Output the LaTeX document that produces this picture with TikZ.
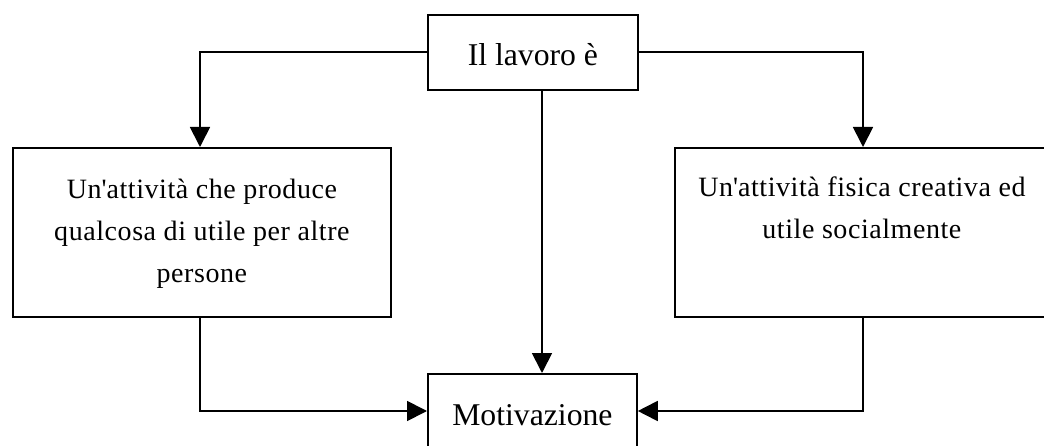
\documentclass[tikz,border=0pt]{standalone}
\usepackage{fontspec}
\setmainfont{Liberation Serif}
% lightly tracked face for the text inside the two side boxes
\newfontfamily\boxfont[LetterSpace=2,Ligatures=NoCommon]{Liberation Serif}
\usetikzlibrary{arrows.meta}
\begin{document}
\begin{tikzpicture}[x=1pt,y=-1pt,
  box/.style={draw, line width=1.8pt, inner sep=0pt, anchor=north west},
  bigtext/.style={font=\fontsize{31.7}{38}\selectfont},
  boxtext/.style={font=\boxfont\fontsize{28}{42}\selectfont},
  link/.style={line width=1.8pt},
  arr/.style={link, -{Triangle[length=20pt,width=20pt]}}]
\useasboundingbox (0,0) rectangle (1044,446);
\fill[white] (0,0) rectangle (1044,446);
\clip (0,0) rectangle (1044,446);

% guide coordinates for the connector columns and the bottom row
\coordinate (lx) at (200,0);
\coordinate (cx) at (542,0);
\coordinate (rx) at (863,0);
\coordinate (by) at (0,411);

% boxes
\node[box, bigtext, minimum width=210pt, minimum height=75pt,
      text height=27pt, text depth=0pt] (top) at (427,14) {Il lavoro è};
\node[box, boxtext] (left) at (12,147)
  {\parbox[t][169pt][t]{378pt}{\centering\rule{0pt}{51pt}Un\textquotesingle attività che produce\\qualcosa di utile per altre\\persone}};
\node[box, boxtext] (right) at (674,147)
  {\parbox[t][169pt][t]{374pt}{\centering\rule{0pt}{49pt}Un\textquotesingle attività fisica creativa ed\\utile socialmente}};
\node[box, bigtext, minimum width=209pt, minimum height=82.4pt,
      text height=21.6pt, text depth=0pt] (mot) at (427,373) {Motivazione};

% connectors
\draw[arr] (top.west) -| (left.north -| lx);
\draw[arr] (top.east) -| (right.north -| rx);
\draw[arr] (top.south -| cx) -- (mot.north -| cx);
\draw[arr] (left.south -| lx) |- (mot.west |- by);
\draw[arr] (right.south -| rx) |- (mot.east |- by);
\end{tikzpicture}
\end{document}
